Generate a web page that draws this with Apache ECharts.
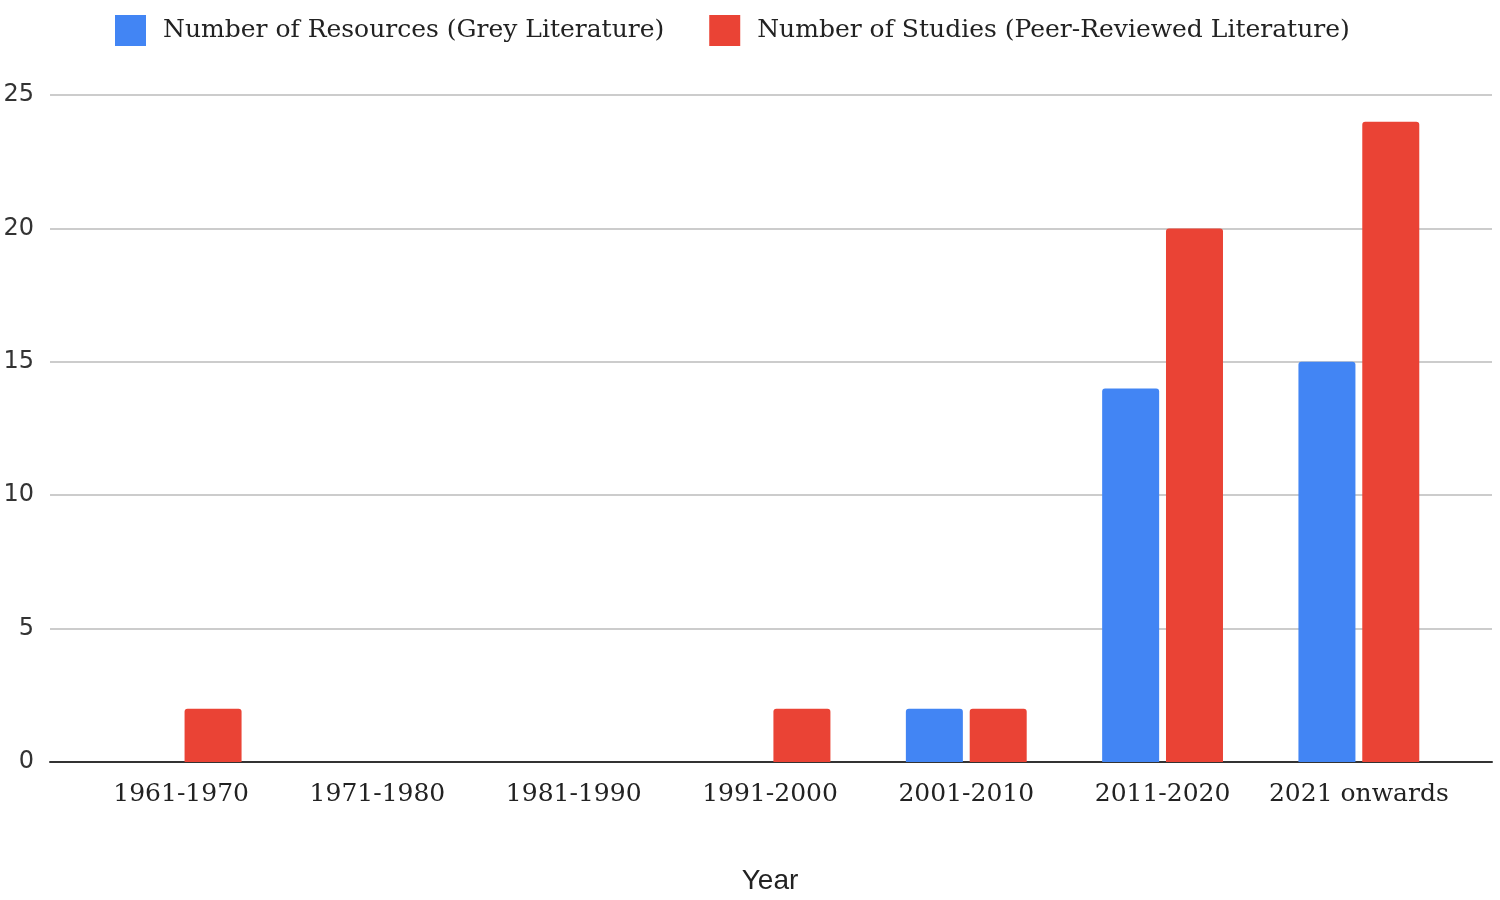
<!DOCTYPE html>
<html>
<head>
<meta charset="utf-8">
<script src="https://cdn.jsdelivr.net/npm/echarts@6/dist/echarts.min.js"></script>
<style>
  html, body { margin: 0; padding: 0; background: #fff; }
  #main { width: 1500px; height: 900px; }
</style>
</head>
<body>
<div id="main"></div>
<script>
var categories = ['1961-1970', '1971-1980', '1981-1990', '1991-2000', '2001-2010', '2011-2020', '2021 onwards'];
var greyLit = [0, 0, 0, 0, 2, 14, 15];
var peerLit = [2, 0, 0, 2, 2, 20, 24];
var yTicks = { min: 0, max: 25, interval: 5 };

var serif = 'DejaVu Serif';
var chart = echarts.init(document.getElementById('main'));

var option = {
  animation: false,
  legend: {
    top: 10,
    left: 110,
    itemWidth: 31,
    itemHeight: 31,
    itemGap: 45,
    icon: 'rect',
    textStyle: { fontFamily: serif, fontSize: 25, color: '#222', padding: [0, 0, 0, 12] },
    data: ['Number of Resources (Grey Literature)', 'Number of Studies (Peer-Reviewed Literature)']
  },
  grid: [
    { left: 50, right: 8, top: 95, bottom: 138 },
    { left: 83, right: 43, top: 95, bottom: 138 }
  ],
  xAxis: [
    {
      gridIndex: 0, type: 'category', data: [''],
      axisLine: { lineStyle: { color: '#333', width: 2 } },
      axisTick: { show: false }, axisLabel: { show: false }
    },
    {
      gridIndex: 1, type: 'category', data: categories,
      axisLine: { show: false }, axisTick: { show: false },
      axisLabel: { fontFamily: serif, fontSize: 25, color: '#222', margin: 20, interval: 0 },
      name: 'Year', nameLocation: 'middle', nameGap: 105,
      nameTextStyle: { fontFamily: 'Liberation Sans', fontSize: 28, color: '#222' }
    }
  ],
  yAxis: [
    {
      gridIndex: 0, type: 'value', min: yTicks.min, max: yTicks.max, interval: yTicks.interval,
      axisLine: { show: false }, axisTick: { show: false },
      axisLabel: { fontFamily: 'DejaVu Sans', fontSize: 24, color: '#333', margin: 16 },
      splitLine: { lineStyle: { color: '#ccc', width: 2 } }
    },
    {
      gridIndex: 1, type: 'value', min: yTicks.min, max: yTicks.max, interval: yTicks.interval,
      show: false, splitLine: { show: false }
    }
  ],
  series: [
    {
      name: 'Number of Resources (Grey Literature)', type: 'bar',
      xAxisIndex: 1, yAxisIndex: 1,
      data: greyLit, barWidth: 57, barGap: '12%',
      itemStyle: { color: '#4285F4', borderRadius: [3, 3, 0, 0] }
    },
    {
      name: 'Number of Studies (Peer-Reviewed Literature)', type: 'bar',
      xAxisIndex: 1, yAxisIndex: 1,
      data: peerLit, barWidth: 57, barGap: '12%',
      itemStyle: { color: '#EA4335', borderRadius: [3, 3, 0, 0] }
    }
  ]
};

chart.setOption(option);
</script>
</body>
</html>
